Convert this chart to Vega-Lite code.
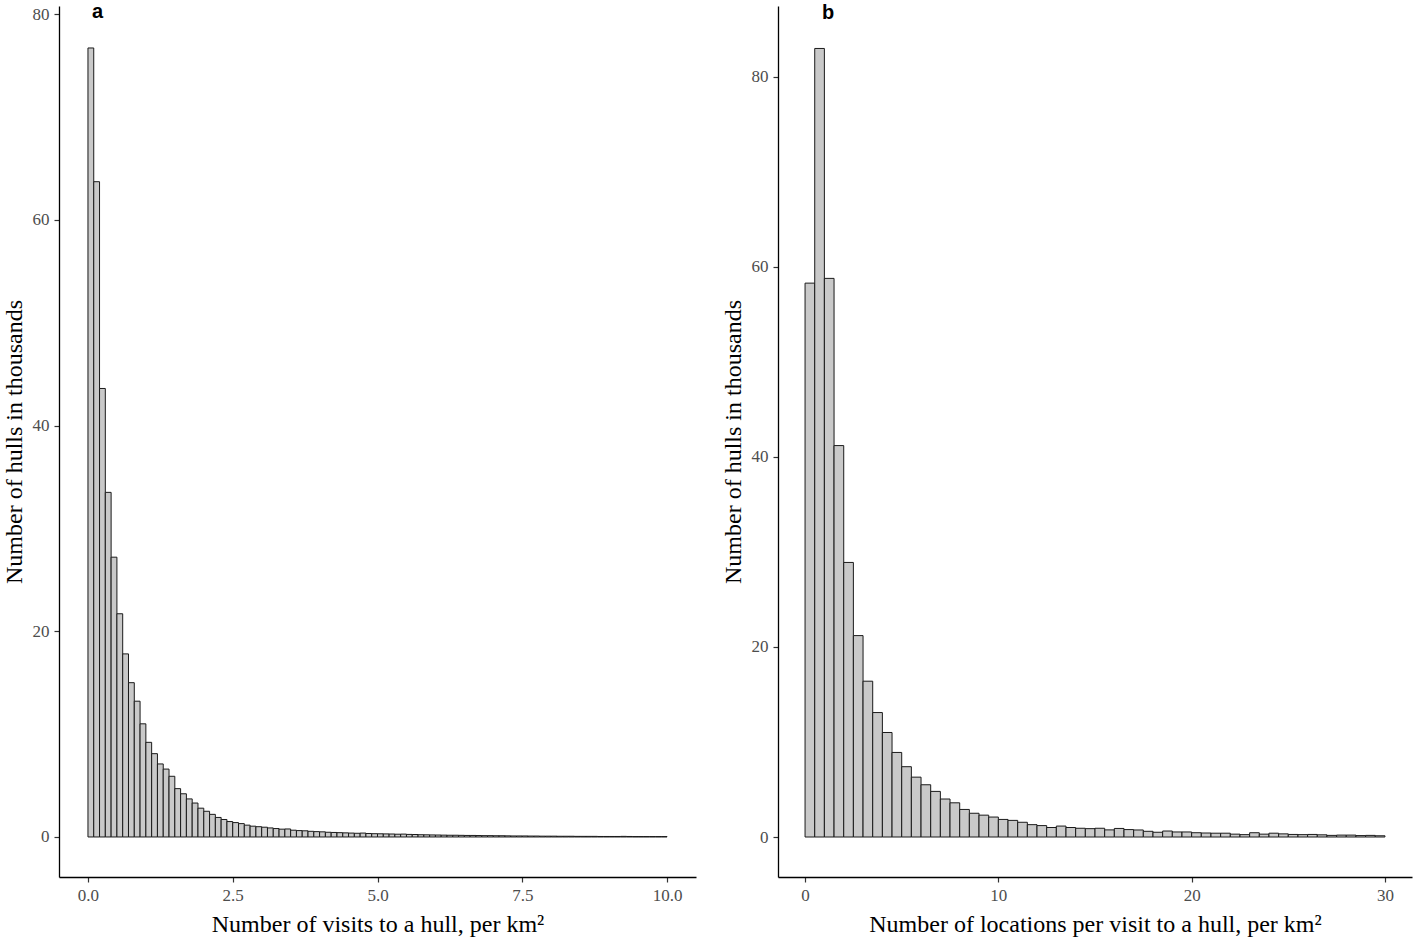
{
  "$schema": "https://vega.github.io/schema/vega-lite/v6.json",
  "background": "white",
  "padding": {"left": 2, "top": 2, "right": 4, "bottom": 2},
  "config": {
    "font": "Liberation Serif",
    "view": {"stroke": null},
    "axis": {
      "grid": false,
      "domainColor": "#000000",
      "domainWidth": 1.3,
      "tickColor": "#333333",
      "tickWidth": 1.2,
      "tickSize": 5,
      "labelFont": "Liberation Serif",
      "labelFontSize": 17,
      "labelColor": "#4d4d4d",
      "labelPadding": 5,
      "titleFont": "Liberation Serif",
      "titleFontSize": 24,
      "titleFontWeight": "normal",
      "titleColor": "#000000"
    }
  },
  "datasets": {
    "a": [
      {"x0": 0.0, "x1": 0.1, "n": 76.7}, {"x0": 0.1, "x1": 0.2, "n": 63.7}, {"x0": 0.2, "x1": 0.3, "n": 43.6}, {"x0": 0.3, "x1": 0.4, "n": 33.5}, {"x0": 0.4, "x1": 0.5, "n": 27.2},
      {"x0": 0.5, "x1": 0.6, "n": 21.7}, {"x0": 0.6, "x1": 0.7, "n": 17.8}, {"x0": 0.7, "x1": 0.8, "n": 15.0}, {"x0": 0.8, "x1": 0.9, "n": 13.2}, {"x0": 0.9, "x1": 1.0, "n": 11.0},
      {"x0": 1.0, "x1": 1.1, "n": 9.2}, {"x0": 1.1, "x1": 1.2, "n": 8.1}, {"x0": 1.2, "x1": 1.3, "n": 7.1}, {"x0": 1.3, "x1": 1.4, "n": 6.6}, {"x0": 1.4, "x1": 1.5, "n": 5.9},
      {"x0": 1.5, "x1": 1.6, "n": 4.7}, {"x0": 1.6, "x1": 1.7, "n": 4.2}, {"x0": 1.7, "x1": 1.8, "n": 3.7}, {"x0": 1.8, "x1": 1.9, "n": 3.3}, {"x0": 1.9, "x1": 2.0, "n": 2.8},
      {"x0": 2.0, "x1": 2.1, "n": 2.5}, {"x0": 2.1, "x1": 2.2, "n": 2.2}, {"x0": 2.2, "x1": 2.3, "n": 1.9}, {"x0": 2.3, "x1": 2.4, "n": 1.7}, {"x0": 2.4, "x1": 2.5, "n": 1.5},
      {"x0": 2.5, "x1": 2.6, "n": 1.4}, {"x0": 2.6, "x1": 2.7, "n": 1.3}, {"x0": 2.7, "x1": 2.8, "n": 1.15}, {"x0": 2.8, "x1": 2.9, "n": 1.05}, {"x0": 2.9, "x1": 3.0, "n": 1.0},
      {"x0": 3.0, "x1": 3.1, "n": 0.95}, {"x0": 3.1, "x1": 3.2, "n": 0.88}, {"x0": 3.2, "x1": 3.3, "n": 0.82}, {"x0": 3.3, "x1": 3.4, "n": 0.76}, {"x0": 3.4, "x1": 3.5, "n": 0.78},
      {"x0": 3.5, "x1": 3.6, "n": 0.66}, {"x0": 3.6, "x1": 3.7, "n": 0.62}, {"x0": 3.7, "x1": 3.8, "n": 0.6}, {"x0": 3.8, "x1": 3.9, "n": 0.55}, {"x0": 3.9, "x1": 4.0, "n": 0.52},
      {"x0": 4.0, "x1": 4.1, "n": 0.5}, {"x0": 4.1, "x1": 4.2, "n": 0.46}, {"x0": 4.2, "x1": 4.3, "n": 0.44}, {"x0": 4.3, "x1": 4.4, "n": 0.42}, {"x0": 4.4, "x1": 4.5, "n": 0.4},
      {"x0": 4.5, "x1": 4.6, "n": 0.38}, {"x0": 4.6, "x1": 4.7, "n": 0.36}, {"x0": 4.7, "x1": 4.8, "n": 0.38}, {"x0": 4.8, "x1": 4.9, "n": 0.34}, {"x0": 4.9, "x1": 5.0, "n": 0.32},
      {"x0": 5.0, "x1": 5.1, "n": 0.31}, {"x0": 5.1, "x1": 5.2, "n": 0.3}, {"x0": 5.2, "x1": 5.3, "n": 0.29}, {"x0": 5.3, "x1": 5.4, "n": 0.27}, {"x0": 5.4, "x1": 5.5, "n": 0.28},
      {"x0": 5.5, "x1": 5.6, "n": 0.25}, {"x0": 5.6, "x1": 5.7, "n": 0.24}, {"x0": 5.7, "x1": 5.8, "n": 0.22}, {"x0": 5.8, "x1": 5.9, "n": 0.21}, {"x0": 5.9, "x1": 6.0, "n": 0.2},
      {"x0": 6.0, "x1": 6.1, "n": 0.19}, {"x0": 6.1, "x1": 6.2, "n": 0.18}, {"x0": 6.2, "x1": 6.3, "n": 0.17}, {"x0": 6.3, "x1": 6.4, "n": 0.17}, {"x0": 6.4, "x1": 6.5, "n": 0.16},
      {"x0": 6.5, "x1": 6.6, "n": 0.15}, {"x0": 6.6, "x1": 6.7, "n": 0.15}, {"x0": 6.7, "x1": 6.8, "n": 0.14}, {"x0": 6.8, "x1": 6.9, "n": 0.13}, {"x0": 6.9, "x1": 7.0, "n": 0.13},
      {"x0": 7.0, "x1": 7.1, "n": 0.12}, {"x0": 7.1, "x1": 7.2, "n": 0.12}, {"x0": 7.2, "x1": 7.3, "n": 0.11}, {"x0": 7.3, "x1": 7.4, "n": 0.1}, {"x0": 7.4, "x1": 7.5, "n": 0.1},
      {"x0": 7.5, "x1": 7.6, "n": 0.1}, {"x0": 7.6, "x1": 7.7, "n": 0.09}, {"x0": 7.7, "x1": 7.8, "n": 0.09}, {"x0": 7.8, "x1": 7.9, "n": 0.08}, {"x0": 7.9, "x1": 8.0, "n": 0.08},
      {"x0": 8.0, "x1": 8.1, "n": 0.08}, {"x0": 8.1, "x1": 8.2, "n": 0.07}, {"x0": 8.2, "x1": 8.3, "n": 0.07}, {"x0": 8.3, "x1": 8.4, "n": 0.07}, {"x0": 8.4, "x1": 8.5, "n": 0.06},
      {"x0": 8.5, "x1": 8.6, "n": 0.06}, {"x0": 8.6, "x1": 8.7, "n": 0.06}, {"x0": 8.7, "x1": 8.8, "n": 0.06}, {"x0": 8.8, "x1": 8.9, "n": 0.05}, {"x0": 8.9, "x1": 9.0, "n": 0.05},
      {"x0": 9.0, "x1": 9.1, "n": 0.05}, {"x0": 9.1, "x1": 9.2, "n": 0.05}, {"x0": 9.2, "x1": 9.3, "n": 0.06}, {"x0": 9.3, "x1": 9.4, "n": 0.05}, {"x0": 9.4, "x1": 9.5, "n": 0.04},
      {"x0": 9.5, "x1": 9.6, "n": 0.04}, {"x0": 9.6, "x1": 9.7, "n": 0.04}, {"x0": 9.7, "x1": 9.8, "n": 0.04}, {"x0": 9.8, "x1": 9.9, "n": 0.04}, {"x0": 9.9, "x1": 10.0, "n": 0.04}
    ],
    "b": [
      {"x0": 0.0, "x1": 0.5, "n": 58.3}, {"x0": 0.5, "x1": 1.0, "n": 83.0}, {"x0": 1.0, "x1": 1.5, "n": 58.8}, {"x0": 1.5, "x1": 2.0, "n": 41.2}, {"x0": 2.0, "x1": 2.5, "n": 28.9},
      {"x0": 2.5, "x1": 3.0, "n": 21.2}, {"x0": 3.0, "x1": 3.5, "n": 16.4}, {"x0": 3.5, "x1": 4.0, "n": 13.1}, {"x0": 4.0, "x1": 4.5, "n": 11.0}, {"x0": 4.5, "x1": 5.0, "n": 8.9},
      {"x0": 5.0, "x1": 5.5, "n": 7.4}, {"x0": 5.5, "x1": 6.0, "n": 6.3}, {"x0": 6.0, "x1": 6.5, "n": 5.5}, {"x0": 6.5, "x1": 7.0, "n": 4.8}, {"x0": 7.0, "x1": 7.5, "n": 4.0},
      {"x0": 7.5, "x1": 8.0, "n": 3.6}, {"x0": 8.0, "x1": 8.5, "n": 2.9}, {"x0": 8.5, "x1": 9.0, "n": 2.5}, {"x0": 9.0, "x1": 9.5, "n": 2.3}, {"x0": 9.5, "x1": 10.0, "n": 2.1},
      {"x0": 10.0, "x1": 10.5, "n": 1.85}, {"x0": 10.5, "x1": 11.0, "n": 1.75}, {"x0": 11.0, "x1": 11.5, "n": 1.55}, {"x0": 11.5, "x1": 12.0, "n": 1.3}, {"x0": 12.0, "x1": 12.5, "n": 1.2},
      {"x0": 12.5, "x1": 13.0, "n": 1.0}, {"x0": 13.0, "x1": 13.5, "n": 1.15}, {"x0": 13.5, "x1": 14.0, "n": 1.0}, {"x0": 14.0, "x1": 14.5, "n": 0.92}, {"x0": 14.5, "x1": 15.0, "n": 0.88},
      {"x0": 15.0, "x1": 15.5, "n": 0.92}, {"x0": 15.5, "x1": 16.0, "n": 0.75}, {"x0": 16.0, "x1": 16.5, "n": 0.9}, {"x0": 16.5, "x1": 17.0, "n": 0.78}, {"x0": 17.0, "x1": 17.5, "n": 0.74},
      {"x0": 17.5, "x1": 18.0, "n": 0.6}, {"x0": 18.0, "x1": 18.5, "n": 0.5}, {"x0": 18.5, "x1": 19.0, "n": 0.63}, {"x0": 19.0, "x1": 19.5, "n": 0.53}, {"x0": 19.5, "x1": 20.0, "n": 0.53},
      {"x0": 20.0, "x1": 20.5, "n": 0.45}, {"x0": 20.5, "x1": 21.0, "n": 0.42}, {"x0": 21.0, "x1": 21.5, "n": 0.4}, {"x0": 21.5, "x1": 22.0, "n": 0.4}, {"x0": 22.0, "x1": 22.5, "n": 0.3},
      {"x0": 22.5, "x1": 23.0, "n": 0.25}, {"x0": 23.0, "x1": 23.5, "n": 0.45}, {"x0": 23.5, "x1": 24.0, "n": 0.3}, {"x0": 24.0, "x1": 24.5, "n": 0.4}, {"x0": 24.5, "x1": 25.0, "n": 0.33},
      {"x0": 25.0, "x1": 25.5, "n": 0.27}, {"x0": 25.5, "x1": 26.0, "n": 0.25}, {"x0": 26.0, "x1": 26.5, "n": 0.27}, {"x0": 26.5, "x1": 27.0, "n": 0.23}, {"x0": 27.0, "x1": 27.5, "n": 0.17},
      {"x0": 27.5, "x1": 28.0, "n": 0.2}, {"x0": 28.0, "x1": 28.5, "n": 0.2}, {"x0": 28.5, "x1": 29.0, "n": 0.15}, {"x0": 29.0, "x1": 29.5, "n": 0.17}, {"x0": 29.5, "x1": 30.0, "n": 0.13}
    ]
  },
  "spacing": 82,
  "bounds": "flush",
  "hconcat": [
    {
      "width": 637,
      "height": 871,
      "data": {"name": "a"},
      "title": {"text": "a", "anchor": "start", "frame": "group", "font": "Liberation Sans", "fontWeight": "bold", "fontSize": 20, "color": "#000000", "dx": 33, "offset": -17},
      "mark": {"type": "rect", "fill": "#c9c9c9", "stroke": "#1a1a1a", "strokeWidth": 1},
      "encoding": {
        "x": {"field": "x0", "type": "quantitative", "scale": {"domain": [-0.5, 10.5], "nice": false, "zero": false},
              "axis": {"values": [0, 2.5, 5, 7.5, 10], "format": ".1f", "title": "Number of visits to a hull, per km²", "titlePadding": 9}},
        "x2": {"field": "x1"},
        "y": {"field": "n", "type": "quantitative", "scale": {"domain": [-3.89, 80.78], "nice": false, "zero": false},
              "axis": {"values": [0, 20, 40, 60, 80], "title": "Number of hulls in thousands", "titlePadding": 6}},
        "y2": {"datum": 0}
      }
    },
    {
      "width": 634,
      "height": 871,
      "data": {"name": "b"},
      "title": {"text": "b", "anchor": "start", "frame": "group", "font": "Liberation Sans", "fontWeight": "bold", "fontSize": 20, "color": "#000000", "dx": 44, "offset": -17},
      "mark": {"type": "rect", "fill": "#c9c9c9", "stroke": "#1a1a1a", "strokeWidth": 1},
      "encoding": {
        "x": {"field": "x0", "type": "quantitative", "scale": {"domain": [-1.4, 31.4], "nice": false, "zero": false},
              "axis": {"values": [0, 10, 20, 30], "title": "Number of locations per visit to a hull, per km²", "titlePadding": 9}},
        "x2": {"field": "x1"},
        "y": {"field": "n", "type": "quantitative", "scale": {"domain": [-4.21, 87.47], "nice": false, "zero": false},
              "axis": {"values": [0, 20, 40, 60, 80], "title": "Number of hulls in thousands", "titlePadding": 6}},
        "y2": {"datum": 0}
      }
    }
  ]
}
